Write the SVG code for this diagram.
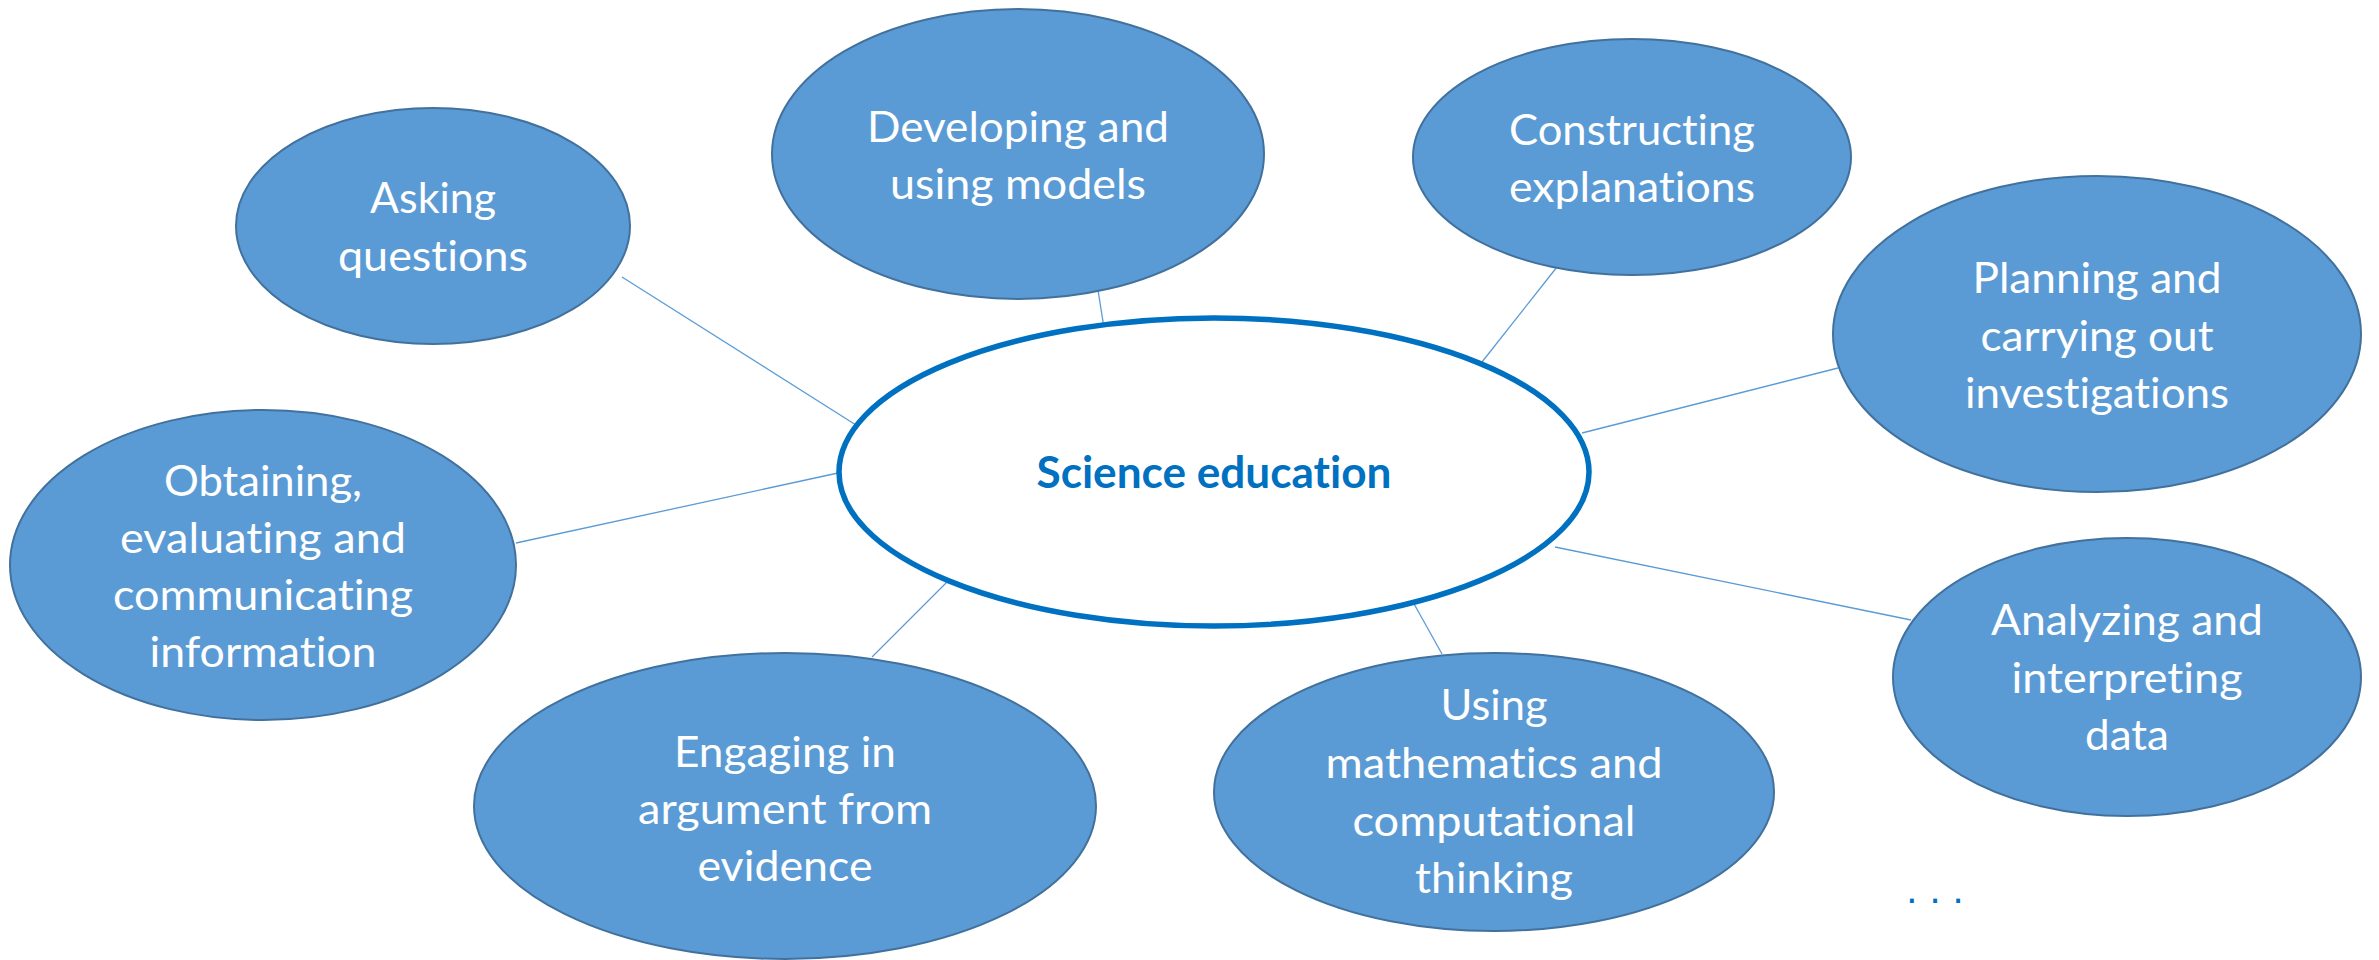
<svg xmlns="http://www.w3.org/2000/svg" width="2379" height="960" viewBox="0 0 2379 960">
<style>
.bg{fill:#ffffff}
.node{fill:#5B9BD5;stroke:#41719C;stroke-width:2}
.hub{fill:#ffffff;stroke:#0070C0;stroke-width:5.5}
text{font-variant-ligatures:none}
.lbl{font-family:Lato,"Open Sans","Liberation Sans",sans-serif;font-size:42px;fill:#ffffff;text-anchor:middle}
.hubt{font-family:Lato,"Open Sans","Liberation Sans",sans-serif;font-size:43px;font-weight:bold;fill:#0070C0;text-anchor:middle}
.conn{stroke:#5B9BD5;stroke-width:1.3;fill:none}
.dots{font-family:"Liberation Sans",sans-serif;font-size:40px;fill:#0070C0;text-anchor:middle}
</style>
<rect class="bg" x="0" y="0" width="2379" height="960"/>
<g id="connectors">
<line class="conn" x1="622" y1="277" x2="856" y2="425"/>
<line class="conn" x1="1098" y1="290" x2="1104" y2="328"/>
<line class="conn" x1="1557" y1="267" x2="1482" y2="362"/>
<line class="conn" x1="1838" y1="368" x2="1582" y2="433"/>
<line class="conn" x1="516" y1="543" x2="838" y2="473"/>
<line class="conn" x1="872" y1="657" x2="949" y2="580"/>
<line class="conn" x1="1413" y1="602" x2="1442" y2="654"/>
<line class="conn" x1="1555" y1="547" x2="1911" y2="620"/>
</g>
<g id="asking">
<ellipse class="node" cx="433" cy="226" rx="197" ry="118"/>
<text class="lbl" x="433" y="213" textLength="126" lengthAdjust="spacingAndGlyphs">Asking</text>
<text class="lbl" x="433" y="271" textLength="190" lengthAdjust="spacingAndGlyphs">questions</text>
</g>
<g id="developing">
<ellipse class="node" cx="1018" cy="154" rx="246" ry="145"/>
<text class="lbl" x="1018" y="142" textLength="302" lengthAdjust="spacingAndGlyphs">Developing and</text>
<text class="lbl" x="1018" y="199" textLength="256" lengthAdjust="spacingAndGlyphs">using models</text>
</g>
<g id="constructing">
<ellipse class="node" cx="1632" cy="157" rx="219" ry="118"/>
<text class="lbl" x="1632" y="145" textLength="246" lengthAdjust="spacingAndGlyphs">Constructing</text>
<text class="lbl" x="1632" y="202" textLength="246" lengthAdjust="spacingAndGlyphs">explanations</text>
</g>
<g id="planning">
<ellipse class="node" cx="2097" cy="334" rx="264" ry="158"/>
<text class="lbl" x="2097" y="293" textLength="249" lengthAdjust="spacingAndGlyphs">Planning and</text>
<text class="lbl" x="2097" y="351" textLength="233" lengthAdjust="spacingAndGlyphs">carrying out</text>
<text class="lbl" x="2097" y="408" textLength="264" lengthAdjust="spacingAndGlyphs">investigations</text>
</g>
<g id="obtaining">
<ellipse class="node" cx="263" cy="565" rx="253" ry="155"/>
<text class="lbl" x="263" y="496" textLength="198" lengthAdjust="spacingAndGlyphs">Obtaining,</text>
<text class="lbl" x="263" y="553" textLength="286" lengthAdjust="spacingAndGlyphs">evaluating and</text>
<text class="lbl" x="263" y="610" textLength="300" lengthAdjust="spacingAndGlyphs">communicating</text>
<text class="lbl" x="263" y="667" textLength="227" lengthAdjust="spacingAndGlyphs">information</text>
</g>
<g id="engaging">
<ellipse class="node" cx="785" cy="806" rx="311" ry="153"/>
<text class="lbl" x="785" y="767" textLength="222" lengthAdjust="spacingAndGlyphs">Engaging in</text>
<text class="lbl" x="785" y="824" textLength="294" lengthAdjust="spacingAndGlyphs">argument from</text>
<text class="lbl" x="785" y="881" textLength="175" lengthAdjust="spacingAndGlyphs">evidence</text>
</g>
<g id="math">
<ellipse class="node" cx="1494" cy="792" rx="280" ry="139"/>
<text class="lbl" x="1494" y="720" textLength="107" lengthAdjust="spacingAndGlyphs">Using</text>
<text class="lbl" x="1494" y="778" textLength="337" lengthAdjust="spacingAndGlyphs">mathematics and</text>
<text class="lbl" x="1494" y="836" textLength="283" lengthAdjust="spacingAndGlyphs">computational</text>
<text class="lbl" x="1494" y="893" textLength="158" lengthAdjust="spacingAndGlyphs">thinking</text>
</g>
<g id="analyzing">
<ellipse class="node" cx="2127" cy="677" rx="234" ry="139"/>
<text class="lbl" x="2127" y="635" textLength="272" lengthAdjust="spacingAndGlyphs">Analyzing and</text>
<text class="lbl" x="2127" y="693" textLength="231" lengthAdjust="spacingAndGlyphs">interpreting</text>
<text class="lbl" x="2127" y="750" textLength="84" lengthAdjust="spacingAndGlyphs">data</text>
</g>
<g id="science-education">
<ellipse class="hub" cx="1214" cy="472" rx="375" ry="154"/>
<text class="hubt" x="1214" y="488" textLength="355" lengthAdjust="spacingAndGlyphs">Science education</text>
</g>
<g id="more">
<text class="dots" x="1941" y="903" letter-spacing="12">...</text>
</g>
</svg>
